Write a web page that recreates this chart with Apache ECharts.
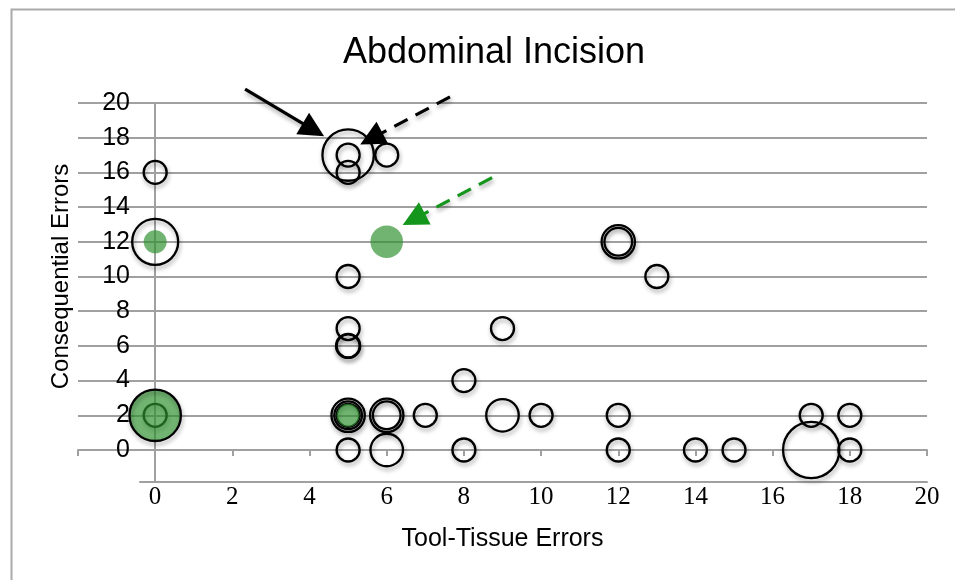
<!DOCTYPE html>
<html>
<head>
  <meta charset="utf-8" />
  <title>Abdominal Incision</title>
  <script src="https://cdn.jsdelivr.net/npm/echarts@6/dist/echarts.min.js"></script>
</head>
<body style="margin:0;background:#fff;">
  <div id="chart" style="width:955px;height:580px;"></div>
  <script type="text/javascript">

    // [tool-tissue errors, consequential errors, bubble size]
    let hollowBubbles = [
      [0, 16, 1], [0, 12, 4], [0, 2, 1],
      [5, 17, 5], [5, 17, 1], [5, 16, 1], [6, 17, 1],
      [5, 10, 1], [5, 7, 1], [5, 6, 1], [5, 6, 1.1],
      [5, 2, 1], [5, 2, 1.45], [5, 2, 2.1],
      [6, 2, 1.45], [6, 2, 2.1], [7, 2, 1], [8, 4, 1], [9, 7, 1],
      [9, 2, 2], [10, 2, 1], [12, 12, 1.45], [12, 12, 2.1], [13, 10, 1],
      [12, 2, 1], [17, 2, 1], [18, 2, 1],
      [5, 0, 1], [6, 0, 2], [8, 0, 1], [12, 0, 1], [14, 0, 1],
      [15, 0, 1], [17, 0, 6], [18, 0, 1]
    ];
    let greenBubbles = [[0, 12, 1], [6, 12, 2], [0, 2, 5], [5, 2, 1]];
    // outlines drawn over the green fill
    let topRings = [[0, 2, 5]];

    // annotation arrows: [start, end]
    let solidArrows = [[[2.33, 20.8], [4.1, 18.45]]];
    let dashedArrows = [[[7.64, 20.35], [5.6, 17.95]]];
    let greenArrows = [[[8.73, 15.7], [6.7, 13.3]]];

    let xTicks = [0, 2, 4, 6, 8, 10, 12, 14, 16, 18, 20];

    var chart = echarts.init(document.getElementById('chart'));

    function bubbleSize(val) {
      return 23 * Math.sqrt(val[2]);
    }

    var shadow = {
      shadowColor: 'rgba(0,0,0,0.35)',
      shadowBlur: 4,
      shadowOffsetX: 1,
      shadowOffsetY: 3
    };

    var ringStyle = Object.assign({
      color: 'rgba(255,255,255,0)',
      borderColor: '#000',
      borderWidth: 2.3,
      opacity: 1
    }, shadow);

    function arrowSeries(lines, color, dashed) {
      return {
        type: 'lines',
        coordinateSystem: 'cartesian2d',
        xAxisIndex: 0,
        yAxisIndex: 0,
        clip: false,
        symbol: ['none', 'triangle'],
        symbolSize: 25,
        silent: true,
        z: 5,
        lineStyle: Object.assign({
          color: color,
          width: 3.2,
          opacity: 1,
          type: dashed ? [15, 9] : 'solid'
        }, shadow),
        data: lines.map(function (l) { return { coords: l }; })
      };
    }

    var option = {
      animation: false,
      backgroundColor: '#fff',
      title: {
        text: 'Abdominal Incision',
        left: 489,
        textAlign: 'center',
        top: 30,
        textStyle: {
          fontFamily: 'Liberation Sans',
          fontSize: 36,
          fontWeight: 'normal',
          color: '#000'
        }
      },
      graphic: [{
        type: 'rect',
        left: 9,
        top: 7,
        shape: { width: 1000, height: 1000 },
        style: { fill: 'none', stroke: '#aaa', lineWidth: 2 },
        silent: true
      }],
      grid: [
        { left: 78, right: 28, top: 103, bottom: 130, containLabel: false, outerBoundsMode: 'none' },
        { left: 140, right: 28, top: 450, bottom: 98, containLabel: false, outerBoundsMode: 'none' }
      ],
      xAxis: [
        {
          type: 'value',
          min: -2,
          max: 20,
          interval: 2,
          name: 'Tool-Tissue Errors',
          nameLocation: 'middle',
          nameGap: 77,
          nameTextStyle: { fontFamily: 'Liberation Sans', fontSize: 25, color: '#000' },
          axisLine: { onZero: true, lineStyle: { color: '#a0a0a0', width: 2 } },
          axisTick: { show: true, length: 6, lineStyle: { color: '#a0a0a0', width: 2 } },
          axisLabel: { show: false },
          splitLine: { show: false }
        },
        {
          gridIndex: 1,
          type: 'value',
          min: -0.39,
          max: 20,
          axisLine: { onZero: true, lineStyle: { color: '#a0a0a0', width: 2 } },
          axisTick: { show: false },
          axisLabel: {
            customValues: xTicks,
            margin: 3,
            fontFamily: 'Liberation Serif',
            fontSize: 25,
            color: '#000'
          },
          splitLine: { show: false }
        }
      ],
      yAxis: [
        {
          type: 'value',
          min: 0,
          max: 20,
          interval: 2,
          position: 'left',
          offset: -77,
          name: 'Consequential Errors',
          nameLocation: 'middle',
          nameGap: 82,
          nameTextStyle: { fontFamily: 'Liberation Sans', fontSize: 24, color: '#000' },
          axisLine: { show: true, onZero: false, lineStyle: { color: '#a0a0a0', width: 2 } },
          axisTick: { show: false },
          axisLabel: {
            margin: 25,
            fontFamily: 'Liberation Sans',
            fontSize: 25,
            color: '#000'
          },
          splitLine: { show: true, lineStyle: { color: '#a0a0a0', width: 2 } }
        },
        {
          gridIndex: 1,
          type: 'value',
          min: 0,
          max: 1,
          axisLine: { show: true, onZero: true, lineStyle: { color: '#a0a0a0', width: 2 } },
          axisTick: { show: false },
          axisLabel: { show: false },
          splitLine: { show: false }
        }
      ],
      series: [
        {
          name: 'Errors',
          type: 'scatter',
          clip: false,
          symbolSize: bubbleSize,
          itemStyle: ringStyle,
          data: hollowBubbles
        },
        {
          name: 'Highlighted',
          type: 'scatter',
          clip: false,
          symbolSize: bubbleSize,
          itemStyle: {
            color: 'rgba(46,145,46,0.68)',
            borderWidth: 0,
            opacity: 1
          },
          data: greenBubbles
        },
        {
          name: 'Outline',
          type: 'scatter',
          clip: false,
          symbolSize: bubbleSize,
          itemStyle: ringStyle,
          data: topRings
        },
        arrowSeries(solidArrows, '#000', false),
        arrowSeries(dashedArrows, '#000', true),
        arrowSeries(greenArrows, '#14961c', true)
      ]
    };

    chart.setOption(option);
  </script>
</body>
</html>
